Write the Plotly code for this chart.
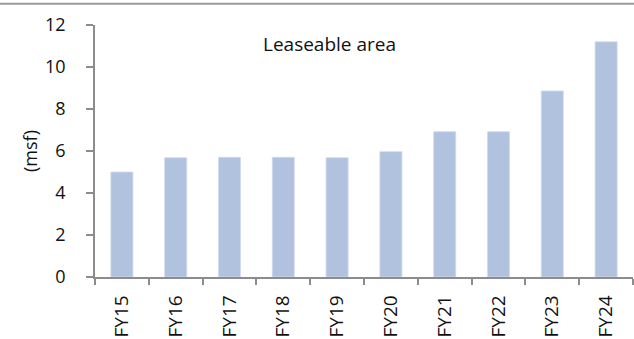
import plotly.graph_objects as go

categories = ["FY15", "FY16", "FY17", "FY18", "FY19", "FY20", "FY21", "FY22", "FY23", "FY24"]
leaseable_area = [5.0, 5.68, 5.7, 5.7, 5.68, 5.97, 6.92, 6.92, 8.86, 11.2]
y_ticks = [0, 2, 4, 6, 8, 10, 12]

FONT = "Open Sans"
AXIS_COLOR = "#8c8c8c"

fig = go.Figure(
    go.Bar(
        x=categories,
        y=leaseable_area,
        marker=dict(color="#b1c2df", line=dict(color="#d0dbee", width=0.8)),
        width=0.41,
    )
)

fig.update_layout(
    width=634,
    height=339,
    margin=dict(l=95, r=1, t=25, b=62),
    paper_bgcolor="white",
    plot_bgcolor="white",
    showlegend=False,
    font=dict(family=FONT, size=18, color="#111111"),
    xaxis=dict(
        type="category",
        showline=True,
        linecolor=AXIS_COLOR,
        linewidth=1.5,
        ticks="outside",
        tickcolor=AXIS_COLOR,
        ticklen=6,
        tickwidth=1.5,
        tickson="boundaries",
        tickangle=-90,
        ticklabelstandoff=9,
        showgrid=False,
        tickfont=dict(family=FONT, size=19),
    ),
    yaxis=dict(
        range=[0, 12],
        tickvals=y_ticks,
        showline=True,
        linecolor=AXIS_COLOR,
        linewidth=1.5,
        ticks="outside",
        tickcolor=AXIS_COLOR,
        ticklen=7,
        tickwidth=1.5,
        ticklabelstandoff=17,
        showgrid=False,
        zeroline=False,
        tickfont=dict(family=FONT, size=18),
        title=dict(text="(msf)", font=dict(family=FONT, size=18), standoff=3),
    ),
    annotations=[
        dict(
            text="Leaseable area",
            xref="paper", yref="paper",
            x=(329.5 - 95) / 538, y=1 - (44 - 25) / 252,
            xanchor="center", yanchor="middle",
            showarrow=False,
            font=dict(family=FONT, size=19, color="#111111"),
        )
    ],
    shapes=[
        dict(
            type="line",
            xref="paper", yref="paper",
            x0=-95 / 538, x1=1 + 1 / 538,
            y0=1 + (25 - 3.7) / 252, y1=1 + (25 - 3.7) / 252,
            line=dict(color="#9a9a9a", width=2),
        )
    ],
)

fig.write_html("out.html")
